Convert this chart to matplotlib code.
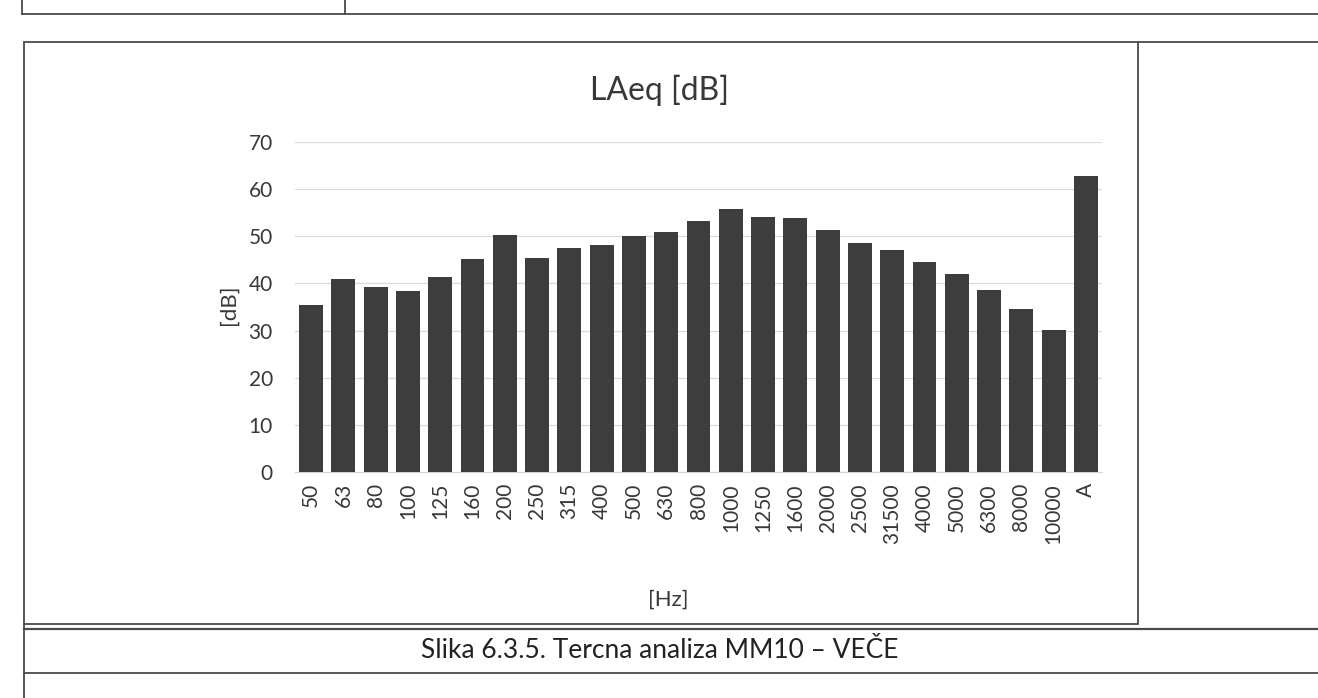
import matplotlib
matplotlib.use("Agg")
import matplotlib.pyplot as plt
from matplotlib.lines import Line2D
from matplotlib.patches import Rectangle
import numpy as np

categories = ["50", "63", "80", "100", "125", "160", "200", "250", "315", "400",
              "500", "630", "800", "1000", "1250", "1600", "2000", "2500", "31500",
              "4000", "5000", "6300", "8000", "10000", "A"]
values = [35.4, 41.0, 39.3, 38.4, 41.3, 45.2, 50.3, 45.5, 47.5, 48.2,
          50.1, 50.9, 53.3, 55.7, 54.0, 53.9, 51.3, 48.5, 47.0,
          44.5, 42.0, 38.7, 34.5, 30.1, 62.8]
yticks = [0, 10, 20, 30, 40, 50, 60, 70]

title = "LAeq [dB]"
ylabel = "[dB]"
xlabel = "[Hz]"
caption = "Slika 6.3.5. Tercna analiza MM10 \u2013 VE\u010cE"

W, H = 1318, 698
plt.rcParams['font.family'] = ['Lato', 'DejaVu Sans']
fig = plt.figure(figsize=(W / 100, H / 100), dpi=100)
fig.patch.set_facecolor('white')

def fx(px):
    return px / W

def fy(py):
    return 1 - py / H

# plot area
left, right, top, bottom = 295, 1102, 142, 472
ax = fig.add_axes([fx(left), fy(bottom), (right - left) / W, (bottom - top) / H])
x = np.arange(len(categories))
ax.bar(x, values, width=0.74, color='#3d3d3d', zorder=3)
ax.set_xlim(-0.5, len(categories) - 0.5)
ax.set_ylim(0, 70)
ax.set_yticks(yticks)
ax.set_yticklabels([str(v) for v in yticks], fontsize=15, color='#383838')
ax.set_xticks(x)
ax.set_xticklabels(categories, rotation=90, fontsize=15, color='#383838')
ax.tick_params(axis='y', length=0, pad=16)
ax.tick_params(axis='x', length=0, pad=8)
ax.grid(axis='y', color='#dadada', linewidth=0.9, zorder=0)
for s in ['top', 'right', 'left']:
    ax.spines[s].set_visible(False)
ax.spines['bottom'].set_color('#d4d4d4')

# texts
fig.text(fx(659), fy(90), title, ha='center', va='center', fontsize=23, color='#383838')
fig.text(fx(229), fy(305), ylabel, ha='center', va='center', fontsize=16, rotation=90, color='#383838')
fig.text(fx(668), fy(600), xlabel, ha='center', va='center', fontsize=16, color='#383838')
fig.text(fx(660), fy(651), caption, ha='center', va='center', fontsize=19, color='#222222')

# document frame lines
lc = '#4a4a4a'
def hline(y, x0, x1, lw=1.3):
    fig.add_artist(Line2D([fx(x0), fx(x1)], [fy(y), fy(y)], color=lc, lw=lw))

def vline(xp, y0, y1, lw=1.3):
    fig.add_artist(Line2D([fx(xp), fx(xp)], [fy(y0), fy(y1)], color=lc, lw=lw))

hline(14, 22, 1318)
vline(22, 0, 14)
vline(345, 0, 14)
fig.add_artist(Rectangle((fx(24), fy(624)), fx(1138) - fx(24), (624 - 42) / H,
                         fill=False, edgecolor=lc, lw=1.3, transform=fig.transFigure))
hline(42, 1138, 1318)
hline(629, 24, 1318, lw=1.6)
hline(673, 24, 1318)
vline(24, 624, 698)

fig.savefig('out.png', dpi=100, facecolor='white')
